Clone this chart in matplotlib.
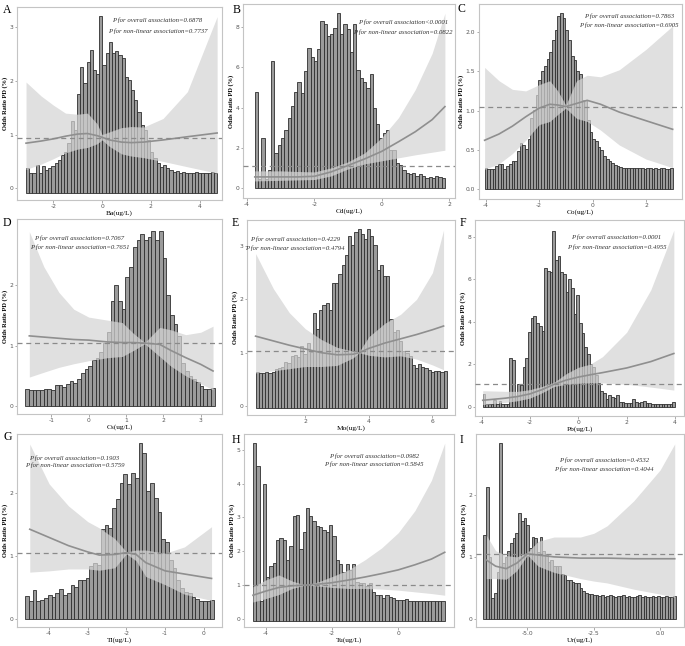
import numpy as np
import matplotlib
matplotlib.use("Agg")
import matplotlib.pyplot as plt

plt.rcParams['axes.unicode_minus'] = False

# ---- data ----
# A: Ba
ba_range = (-3.12, 4.72)
ba_base = -0.09
ba_heights = [0.37, 0.28, 0.28, 0.43, 0.28, 0.42, 0.34, 0.38, 0.42, 0.47, 0.53, 0.62, 0.68, 0.84, 1.25,
              1.09, 1.76, 2.27, 1.96, 2.36, 2.58, 2.2, 2.13, 3.21, 2.3, 2.52, 2.73, 2.52, 2.55, 2.48,
              2.42, 2.08, 2.02, 1.83, 1.65, 1.43, 1.18, 1.09, 0.9, 0.68, 0.56, 0.47, 0.4, 0.43, 0.37,
              0.34, 0.31, 0.32, 0.28, 0.3, 0.28, 0.29, 0.28, 0.3, 0.28, 0.29, 0.28, 0.29, 0.3, 0.29]
ba_cx = [-3.12, -2.5, -2.0, -1.5, -1.0, -0.6, -0.2, 0.0, 0.3, 0.8, 1.2, 1.7, 2.5, 3.5, 4.72]
ba_fit = [0.84, 0.88, 0.92, 0.97, 1.01, 1.02, 0.98, 0.95, 0.9, 0.86, 0.85, 0.86, 0.9, 0.96, 1.03]
ba_hi = [1.98, 1.72, 1.55, 1.4, 1.38, 1.4, 1.2, 1.0, 1.05, 1.13, 1.15, 1.14, 1.3, 1.8, 3.2]
ba_lo = [0.35, 0.45, 0.55, 0.66, 0.73, 0.76, 0.83, 0.9, 0.78, 0.64, 0.6, 0.57, 0.5, 0.4, 0.28]

# B: Cd
cd_range = (-3.77, 1.88)
cd_base = 0.0
cd_heights = [4.8, 0.45, 2.48, 0.45, 0.91, 6.32, 1.74, 2.12, 2.48, 2.9, 3.5, 4.06, 4.8, 5.3, 4.75,
              5.8, 6.95, 6.54, 6.32, 6.9, 8.33, 8.15, 7.57, 7.65, 7.95, 8.72, 7.65, 8.15, 7.9, 6.79,
              8.15, 5.88, 5.46, 5.3, 5.0, 5.68, 4.0, 3.18, 2.48, 2.73, 2.9, 1.9, 1.87, 1.24, 1.14,
              0.88, 0.75, 0.7, 0.75, 0.6, 0.68, 0.6, 0.5, 0.55, 0.5, 0.6, 0.55, 0.5]
cd_cx = [-3.77, -3.0, -2.5, -2.0, -1.5, -1.0, -0.5, 0.0, 0.5, 1.0, 1.5, 1.88]
cd_fit = [0.55, 0.55, 0.55, 0.58, 0.8, 1.12, 1.45, 1.82, 2.3, 2.8, 3.4, 4.05]
cd_hi = [0.85, 0.85, 0.82, 0.8, 1.0, 1.3, 1.75, 2.5, 3.5, 4.9, 6.7, 8.7]
cd_lo = [0.35, 0.38, 0.4, 0.42, 0.6, 0.95, 1.2, 1.35, 1.5, 1.65, 1.78, 1.88]

# C: Co
co_range = (-4.04, 3.02)
co_base = 0.0
co_heights = [0.27, 0.25, 0.25, 0.25, 0.29, 0.32, 0.32, 0.25, 0.29, 0.32, 0.35, 0.36, 0.48, 0.58, 0.56,
              0.51, 0.63, 0.9, 1.01, 1.2, 1.39, 1.51, 1.57, 1.66, 1.75, 1.9, 2.03, 2.21, 2.25, 2.18,
              2.03, 1.9, 1.7, 1.65, 1.5, 1.46, 1.14, 1.14, 0.88, 0.73, 0.63, 0.61, 0.54, 0.5, 0.42,
              0.38, 0.35, 0.33, 0.31, 0.29, 0.28, 0.27, 0.27, 0.26, 0.26, 0.27, 0.27, 0.27, 0.27, 0.25,
              0.26, 0.26, 0.25, 0.26, 0.25, 0.26, 0.27, 0.25, 0.25, 0.26]
co_cx = [-4.04, -3.5, -3.0, -2.5, -2.0, -1.6, -1.3, -1.0, -0.6, -0.2, 0.3, 1.0, 2.0, 3.0]
co_fit = [0.62, 0.7, 0.8, 0.92, 1.03, 1.08, 1.07, 1.05, 1.09, 1.13, 1.08, 0.98, 0.87, 0.76]
co_hi = [1.55, 1.38, 1.27, 1.25, 1.33, 1.38, 1.25, 1.07, 1.38, 1.45, 1.43, 1.52, 1.78, 2.08]
co_lo = [0.25, 0.32, 0.45, 0.62, 0.82, 0.86, 0.95, 1.03, 0.9, 0.86, 0.75, 0.56, 0.38, 0.27]

# D: Cs
cs_range = (-1.70, 3.37)
cs_base = 0.0
cs_heights = [0.28, 0.26, 0.26, 0.26, 0.26, 0.28, 0.29, 0.26, 0.35, 0.35, 0.32, 0.37, 0.41, 0.39, 0.44,
              0.54, 0.61, 0.67, 0.76, 0.8, 0.9, 1.05, 1.22, 1.74, 2.0, 1.74, 1.6, 2.14, 2.3, 2.63,
              2.74, 2.85, 2.74, 2.8, 2.9, 2.74, 2.9, 2.44, 1.83, 1.5, 1.35, 1.15, 0.72, 0.58, 0.5,
              0.45, 0.4, 0.33, 0.28, 0.28, 0.3]
cs_cx = [-1.59, -1.2, -0.8, -0.4, 0.0, 0.5, 0.9, 1.2, 1.5, 1.9, 2.2, 2.6, 3.0, 3.33]
cs_fit = [1.16, 1.14, 1.12, 1.1, 1.09, 1.06, 1.05, 1.05, 1.04, 1.02, 0.92, 0.8, 0.69, 0.58]
cs_hi = [2.88, 2.3, 1.88, 1.6, 1.47, 1.42, 1.38, 1.2, 1.05, 1.3, 1.26, 1.18, 1.22, 1.32]
cs_lo = [0.48, 0.56, 0.64, 0.7, 0.75, 0.8, 0.82, 0.92, 1.03, 0.82, 0.66, 0.5, 0.37, 0.27]

# E: Mo
mo_range = (0.44, 6.45)
mo_base = -0.03
mo_heights = [0.64, 0.61, 0.62, 0.63, 0.61, 0.64, 0.69, 0.71, 0.74, 0.82, 0.8, 0.94, 0.96, 0.92, 1.12,
              0.98, 1.18, 1.02, 1.75, 1.45, 1.8, 1.9, 1.94, 1.8, 2.3, 2.3, 2.47, 2.64, 2.84, 3.19,
              3.03, 3.27, 3.32, 3.22, 3.14, 3.32, 3.19, 3.02, 2.55, 2.64, 2.43, 2.43, 1.64, 1.39, 1.42,
              1.21, 1.03, 0.99, 0.93, 0.76, 0.71, 0.78, 0.74, 0.71, 0.68, 0.64, 0.66, 0.66, 0.64, 0.65]
mo_cx = [0.44, 1.0, 1.5, 2.0, 2.5, 3.0, 3.5, 3.7, 4.0, 4.5, 5.0, 5.5, 6.0, 6.35]
mo_fit = [1.31, 1.22, 1.14, 1.07, 1.0, 0.96, 0.97, 1.0, 1.08, 1.18, 1.26, 1.34, 1.43, 1.5]
mo_hi = [2.86, 2.2, 1.75, 1.45, 1.25, 1.1, 1.03, 1.02, 1.3, 1.55, 1.72, 2.0, 2.5, 3.3]
mo_lo = [0.62, 0.66, 0.7, 0.74, 0.74, 0.76, 0.9, 1.0, 0.95, 0.92, 0.94, 0.88, 0.77, 0.68]

# F: Pb
pb_range = (-3.95, 4.0)
pb_base = 0.0
pb_heights = [0.58, 0.12, 0.14, 0.14, 0.3, 0.12, 0.27, 0.12, 0.14, 0.12, 2.27, 2.2, 0.5, 1.05, 1.0,
              1.85, 2.3, 3.5, 4.15, 4.25, 3.95, 3.8, 3.55, 6.5, 6.4, 6.35, 8.25, 6.9, 7.1, 6.35,
              6.25, 5.4, 6.0, 5.6, 4.35, 5.25, 3.95, 3.45, 2.8, 2.5, 2.0, 1.85, 1.5, 1.1, 0.75,
              0.65, 0.38, 0.55, 0.45, 0.4, 0.55, 0.2, 0.2, 0.18, 0.15, 0.18, 0.35, 0.2, 0.15, 0.2,
              0.25, 0.15, 0.15, 0.12, 0.12, 0.12, 0.12, 0.12, 0.12, 0.12, 0.12, 0.2]
pb_cx = [-3.95, -3.0, -2.5, -2.0, -1.5, -1.0, -0.5, 0.0, 0.5, 1.0, 2.0, 3.0, 3.95]
pb_fit = [0.3, 0.4, 0.48, 0.6, 0.8, 1.05, 1.25, 1.39, 1.5, 1.6, 1.82, 2.12, 2.5]
pb_hi = [0.75, 0.72, 0.72, 0.8, 0.95, 1.15, 1.55, 1.85, 2.0, 2.35, 3.5, 5.5, 8.3]
pb_lo = [0.1, 0.2, 0.28, 0.4, 0.65, 0.95, 1.05, 1.1, 1.12, 1.12, 1.05, 0.92, 0.78]

# G: Tl
tl_range = (-4.62, 0.27)
tl_base = 0.0
tl_heights = [0.37, 0.29, 0.47, 0.29, 0.31, 0.34, 0.39, 0.35, 0.42, 0.49, 0.39, 0.42, 0.55, 0.52, 0.63,
              0.63, 0.65, 0.85, 0.89, 0.86, 1.44, 1.49, 1.45, 1.76, 1.91, 2.17, 2.3, 2.14, 2.32, 2.25,
              2.79, 2.64, 2.04, 2.17, 1.93, 1.7, 1.28, 1.23, 0.95, 0.81, 0.62, 0.5, 0.44, 0.42, 0.35,
              0.32, 0.3, 0.3, 0.3, 0.31]
tl_cx = [-4.5, -4.0, -3.5, -3.0, -2.7, -2.3, -2.0, -1.75, -1.5, -1.0, -0.5, 0.2]
tl_fit = [1.43, 1.3, 1.17, 1.07, 1.02, 1.03, 1.06, 1.03, 0.9, 0.77, 0.72, 0.65]
tl_hi = [2.78, 2.15, 1.8, 1.55, 1.45, 1.28, 1.07, 1.1, 1.1, 1.05, 1.15, 1.47]
tl_lo = [0.75, 0.77, 0.8, 0.8, 0.78, 0.82, 1.04, 0.93, 0.68, 0.55, 0.4, 0.3]

# H: Tu
tu_range = (-4.38, 1.4)
tu_base = -0.05
tu_heights = [5.2, 4.53, 0.52, 3.98, 1.25, 1.57, 1.64, 2.34, 2.39, 2.34, 1.73, 2.15, 3.03, 3.07, 2.08,
              2.56, 3.27, 3.03, 2.9, 2.76, 2.71, 2.64, 2.58, 2.78, 2.44, 1.73, 1.61, 1.39, 1.61, 1.44,
              1.61, 1.1, 1.05, 1.05, 0.96, 1.05, 0.79, 0.71, 0.71, 0.61, 0.71, 0.66, 0.61, 0.57, 0.57,
              0.55, 0.6, 0.52, 0.52, 0.52, 0.52, 0.52, 0.52, 0.54, 0.52, 0.54, 0.54, 0.54]
tu_cx = [-4.38, -4.0, -3.6, -3.2, -2.8, -2.4, -2.0, -1.5, -1.0, -0.5, 0.0, 0.5, 1.0, 1.4]
tu_fit = [0.7, 0.82, 0.93, 0.98, 1.0, 1.03, 1.07, 1.15, 1.24, 1.34, 1.45, 1.6, 1.77, 1.97]
tu_hi = [0.95, 1.15, 1.3, 1.12, 1.0, 1.1, 1.25, 1.45, 1.75, 2.1, 2.55, 3.2, 4.1, 5.2]
tu_lo = [0.5, 0.6, 0.72, 0.9, 1.0, 0.97, 0.93, 0.9, 0.9, 0.88, 0.85, 0.8, 0.75, 0.7]

# I: Ur
ur_range = (-6.66, 0.59)
ur_base = 0.0
ur_heights = [1.36, 2.13, 1.0, 0.33, 0.42, 0.75, 2.84, 0.9, 1.0, 1.1, 1.22, 1.3, 1.38, 1.7, 1.58,
              1.62, 1.52, 1.15, 1.32, 1.3, 1.08, 1.32, 1.1, 1.05, 0.92, 0.95, 0.85, 0.85, 0.85, 0.72,
              0.7, 0.63, 0.62, 0.6, 0.58, 0.58, 0.5, 0.45, 0.42, 0.4, 0.4, 0.38, 0.38, 0.37, 0.38,
              0.36, 0.37, 0.38, 0.37, 0.36, 0.37, 0.37, 0.38, 0.36, 0.37, 0.36, 0.36, 0.37, 0.38, 0.36,
              0.37, 0.36, 0.36, 0.37, 0.36, 0.37, 0.36, 0.36, 0.37, 0.36, 0.36, 0.37]
ur_cx = [-6.55, -6.2, -5.8, -5.4, -5.0, -4.6, -4.0, -3.0, -2.5, -2.0, -1.0, 0.0, 0.55]
ur_fit = [0.95, 0.85, 0.81, 0.9, 1.05, 1.03, 1.0, 0.98, 0.98, 0.98, 0.97, 0.97, 0.97]
ur_hi = [1.35, 1.1, 1.02, 1.0, 1.07, 1.25, 1.32, 1.32, 1.38, 1.5, 1.9, 2.4, 2.82]
ur_lo = [0.65, 0.65, 0.64, 0.78, 1.03, 0.85, 0.75, 0.65, 0.61, 0.58, 0.48, 0.4, 0.35]

letters = ["A", "B", "C", "D", "E", "F", "G", "H", "I"]
xlabels = ["Ba(ug/L)", "Cd(ug/L)", "Co(ug/L)", "Cs(ug/L)", "Mo(ug/L)",
           "Pb(ug/L)", "Tl(ug/L)", "Tu(ug/L)", "Ur(ug/L)"]
p_overall = ["=0.6878", "<0.0001", "=0.7863", "=0.7067", "=0.4229",
             "=0.0001", "=0.1903", "=0.0982", "=0.4532"]
p_nonlin = ["=0.7737", "=0.0822", "=0.6905", "=0.7651", "=0.4794",
            "=0.4955", "=0.5759", "=0.5845", "=0.4044"]
ref_lines = [0.93, 1.1, 1.045, 1.05, 1.03, 1.05, 1.05, 1.0, 1.04]
xticks = [[-2, 0, 2, 4], [-4, -2, 0, 2], [-4, -2, 0, 2], [-1, 0, 1, 2, 3], [2, 4, 6],
          [-4, -2, 0, 2, 4], [-4, -3, -2, -1, 0], [-4, -2, 0], [-5.0, -2.5, 0.0]]
yticks = [[0, 1, 2, 3], [0, 2, 4, 6, 8], [0.0, 0.5, 1.0, 1.5, 2.0], [0, 1, 2], [0, 1, 2, 3],
          [0, 2, 4, 6, 8], [0, 1, 2], [0, 1, 2, 3, 4, 5], [0, 1, 2]]

panels = [
    (ba_range, ba_base, ba_heights, ba_cx, ba_fit, ba_lo, ba_hi),
    (cd_range, cd_base, cd_heights, cd_cx, cd_fit, cd_lo, cd_hi),
    (co_range, co_base, co_heights, co_cx, co_fit, co_lo, co_hi),
    (cs_range, cs_base, cs_heights, cs_cx, cs_fit, cs_lo, cs_hi),
    (mo_range, mo_base, mo_heights, mo_cx, mo_fit, mo_lo, mo_hi),
    (pb_range, pb_base, pb_heights, pb_cx, pb_fit, pb_lo, pb_hi),
    (tl_range, tl_base, tl_heights, tl_cx, tl_fit, tl_lo, tl_hi),
    (tu_range, tu_base, tu_heights, tu_cx, tu_fit, tu_lo, tu_hi),
    (ur_range, ur_base, ur_heights, ur_cx, ur_fit, ur_lo, ur_hi),
]

# ---- layout (pixels) ----
W, H = 685, 646
boxes = [(17, 7, 222, 200), (243, 4, 455, 198), (479, 4, 682, 199),
         (17, 219, 222, 414), (247, 220, 455, 415), (475, 220, 684, 416),
         (17, 434, 222, 627), (244, 434, 454, 627), (476, 434, 684, 627)]
limits = [((-3.49, 4.92), (-0.22, 3.38)), ((-4.12, 2.18), (-0.5, 9.16)),
          ((-4.25, 3.35), (-0.13, 2.36)), ((-1.92, 3.57), (-0.13, 3.09)),
          ((0.17, 6.71), (-0.17, 3.49)), ((-4.27, 4.37), (-0.44, 8.78)),
          ((-4.83, 0.47), (-0.12, 2.94)), ((-4.65, 1.68), (-0.24, 5.47)),
          ((-6.94, 0.9), (-0.13, 2.98))]
text_pos = [(0.685, 0.93, 0.874), (0.756, 0.904, 0.854), (0.737, 0.94, 0.89),
            (0.304, 0.904, 0.855), (0.231, 0.90, 0.855), (0.676, 0.91, 0.86),
            (0.28, 0.875, 0.836), (0.62, 0.887, 0.841), (0.614, 0.863, 0.816)]
letter_pos = [(3, 10), (233, 10), (458, 9), (3, 223), (232, 223), (460, 223),
              (4, 437), (232, 440), (460, 440)]

fig = plt.figure(figsize=(W / 100, H / 100), dpi=100)

for i, (rng, base, heights, cx, fit, lo, hi) in enumerate(panels):
    l, t, r, b = boxes[i]
    ax = fig.add_axes([l / W, 1 - b / H, (r - l) / W, (b - t) / H])
    edges = np.linspace(rng[0], rng[1], len(heights) + 1)
    tops = np.array(heights)
    ax.bar(edges[:-1], tops - base, width=np.diff(edges), bottom=base, align='edge',
           color='#9b9b9b', edgecolor='#2f2f2f', linewidth=0.6, zorder=1)
    ax.fill_between(cx, lo, hi, color='#d4d4d4', alpha=0.72, linewidth=0, zorder=2)
    ax.plot(cx, fit, color='#8f8f8f', linewidth=1.2, zorder=3)
    ax.axhline(ref_lines[i], color='#8a8a8a', linestyle=(0, (4, 3)), linewidth=0.9, zorder=4)

    ax.set_xlim(*limits[i][0])
    ax.set_ylim(*limits[i][1])
    ax.set_xticks(xticks[i])
    ax.set_yticks(yticks[i])
    if i == 2:
        ax.set_yticklabels([f"{v:.1f}" for v in yticks[i]])
    if i == 8:
        ax.set_xticklabels([f"{v:.1f}" for v in xticks[i]])
    ax.tick_params(labelsize=4.3, length=1.8, width=0.5, colors='#888888', labelcolor='#555555', pad=1)
    for s in ax.spines.values():
        s.set_color('#c4c4c4')
        s.set_linewidth(0.8)
    ax.set_xlabel(xlabels[i], fontsize=5.3, family='Liberation Serif', labelpad=1)
    ax.set_ylabel("Odds Ratio PD (%)", fontsize=4.6, family='Liberation Serif',
                  fontweight='bold', labelpad=1)

    tx, ty1, ty2 = text_pos[i]
    ax.text(tx, ty1, "P for overall association" + p_overall[i], transform=ax.transAxes,
            ha='center', va='center', fontsize=4.9, style='italic', family='Liberation Serif',
            color='#333333', zorder=5)
    ax.text(tx, ty2, "P for non-linear association" + p_nonlin[i], transform=ax.transAxes,
            ha='center', va='center', fontsize=4.9, style='italic', family='Liberation Serif',
            color='#333333', zorder=5)

    lx, ly = letter_pos[i]
    fig.text(lx / W, 1 - ly / H, letters[i], fontsize=8.5, family='Liberation Serif',
             ha='left', va='center')

fig.savefig("out.png", dpi=100)
